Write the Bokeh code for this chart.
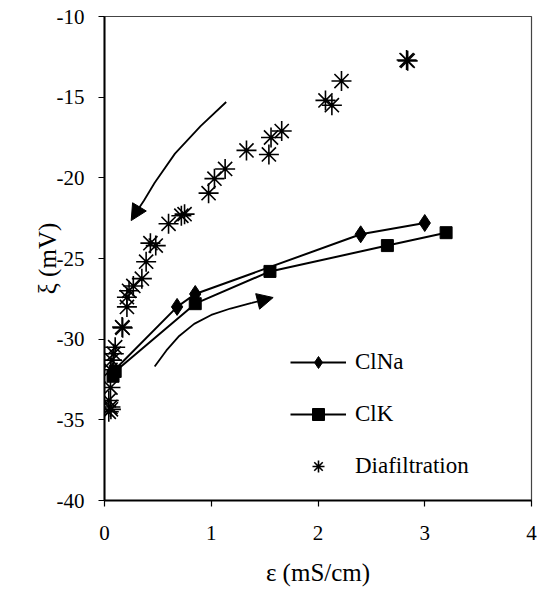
from bokeh.plotting import figure
from bokeh.models import Range1d, FixedTicker, Arrow, NormalHead, Legend, LegendItem
from bokeh.embed import file_html
from bokeh.resources import INLINE

# ---- data ----
clna_x = [0.08, 0.68, 0.85, 2.40, 3.00]
clna_y = [-32.0, -28.0, -27.2, -23.5, -22.8]

clk_x = [0.08, 0.10, 0.85, 1.55, 2.65, 3.20]
clk_y = [-32.3, -32.0, -27.8, -25.8, -24.2, -23.4]

dia_x = [2.83, 2.84, 2.22, 2.07, 2.13, 1.66, 1.56, 1.54, 1.33, 1.13, 1.03, 0.975,
         0.72, 0.75, 0.60, 0.48, 0.43, 0.39, 0.35, 0.27, 0.23, 0.21, 0.21,
         0.165, 0.17, 0.10, 0.087, 0.07, 0.056, 0.056, 0.04, 0.056, 0.04, 0.06]
dia_y = [-12.7, -12.75, -14.0, -15.2, -15.5, -17.1, -17.5, -18.55, -18.3, -19.45, -20.05, -20.95,
         -22.35, -22.25, -22.85, -24.2, -24.05, -25.2, -26.25, -26.7, -27.0, -27.4, -28.0,
         -29.25, -29.3, -30.5, -30.9, -31.3, -31.9, -33.0, -33.8, -34.2, -34.5, -34.35]

arrow1_x = [1.14, 0.90, 0.66, 0.47, 0.37, 0.30]
arrow1_y = [-15.3, -16.8, -18.5, -20.3, -21.4, -22.1]
arrow1_tip = (0.25, -22.65)

arrow2_x = [0.47, 0.58, 0.70, 0.84, 1.00, 1.18, 1.38]
arrow2_y = [-31.7, -30.7, -29.8, -29.05, -28.5, -28.1, -27.75]
arrow2_tip = (1.58, -27.42)

x_ticks = [0, 1, 2, 3, 4]
y_ticks = [-40, -35, -30, -25, -20, -15, -10]
y_tick_labels = {t: str(t) for t in y_ticks}

FONT = "Liberation Serif"

p = figure(width=537, height=608, output_backend="svg", toolbar_location=None,
           x_range=Range1d(0, 4), y_range=Range1d(-40, -10),
           min_border_left=104, min_border_right=6, min_border_top=16, min_border_bottom=108)
p.xgrid.visible = False
p.ygrid.visible = False
p.outline_line_color = "#444444"
p.outline_line_width = 1.2

for ax in (p.xaxis[0], p.yaxis[0]):
    ax.axis_line_color = "black"
    ax.axis_line_width = 2
    ax.major_tick_line_color = "black"
    ax.major_tick_line_width = 1.2
    ax.major_tick_out = 6
    ax.major_tick_in = 0
    ax.minor_tick_line_color = None
    ax.major_label_text_font = FONT
    ax.major_label_text_font_size = "21px"
    ax.major_label_text_color = "black"
    ax.axis_label_text_font = FONT
    ax.axis_label_text_font_size = "25px"
    ax.axis_label_text_font_style = "normal"
    ax.axis_label_text_color = "black"

p.xaxis.ticker = FixedTicker(ticks=x_ticks)
p.yaxis.ticker = FixedTicker(ticks=y_ticks)
p.yaxis.major_label_overrides = y_tick_labels
p.xaxis.axis_label = "ε (mS/cm)"
p.yaxis.axis_label = "ξ (mV)"
p.xaxis.major_label_standoff = 19
p.yaxis.major_label_standoff = 14
p.xaxis.axis_label_standoff = 16
p.yaxis.axis_label_standoff = -7

# series
l1 = p.line(clna_x, clna_y, line_color="black", line_width=2)
m1 = p.scatter(clna_x, clna_y, marker="diamond", size=17, fill_color="black", line_color="black")
l2 = p.line(clk_x, clk_y, line_color="black", line_width=2)
m2 = p.scatter(clk_x, clk_y, marker="square", size=12, fill_color="black", line_color="black")
m3 = p.scatter(dia_x, dia_y, marker="asterisk", size=20, line_color="black", line_width=1.6)

# arrows
p.line(arrow1_x, arrow1_y, line_color="black", line_width=1.8)
p.add_layout(Arrow(end=NormalHead(size=16, fill_color="black", line_color="black"),
                   x_start=arrow1_x[-1], y_start=arrow1_y[-1],
                   x_end=arrow1_tip[0], y_end=arrow1_tip[1],
                   line_color="black", line_width=1.8))
p.line(arrow2_x, arrow2_y, line_color="black", line_width=1.8)
p.add_layout(Arrow(end=NormalHead(size=16, fill_color="black", line_color="black"),
                   x_start=arrow2_x[-1], y_start=arrow2_y[-1],
                   x_end=arrow2_tip[0], y_end=arrow2_tip[1],
                   line_color="black", line_width=1.8))

legend = Legend(items=[LegendItem(label="ClNa", renderers=[l1, m1]),
                       LegendItem(label="ClK", renderers=[l2, m2]),
                       LegendItem(label="Diafiltration", renderers=[m3])],
                location=(186, 19), orientation="vertical",
                glyph_width=56, glyph_height=30, label_height=30,
                spacing=22, padding=0, margin=0, label_standoff=9,
                border_line_color=None, background_fill_alpha=0,
                label_text_font=FONT, label_text_font_size="23px", label_text_color="black")
p.add_layout(legend, "center")

open("out.html", "w").write(file_html(p, INLINE))
